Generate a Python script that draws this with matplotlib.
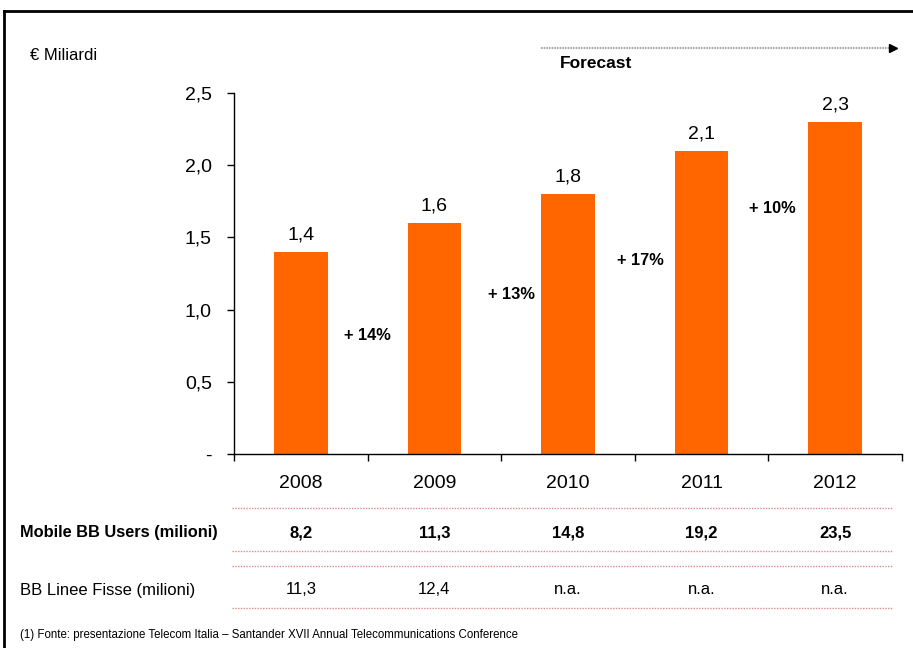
import matplotlib
matplotlib.use("Agg")
import matplotlib.pyplot as plt
from matplotlib.lines import Line2D
from matplotlib.transforms import blended_transform_factory

plt.rcParams['font.family'] = ['Liberation Sans', 'DejaVu Sans']

years = ['2008', '2009', '2010', '2011', '2012']
revenue = [1.4, 1.6, 1.8, 2.1, 2.3]
revenue_labels = ['1,4', '1,6', '1,8', '2,1', '2,3']
growth_labels = ['+ 14%', '+ 13%', '+ 17%', '+ 10%']
ytick_vals = [0, 0.5, 1.0, 1.5, 2.0, 2.5]
ytick_labels = ['-', '0,5', '1,0', '1,5', '2,0', '2,5']
mobile_users = ['8,2', '11,3', '14,8', '19,2', '23,5']
fixed_lines = ['11,3', '12,4', 'n.a.', 'n.a.', 'n.a.']
row_titles = ['Mobile BB Users (milioni)', 'BB Linee Fisse (milioni)']
footnote = '(1) Fonte: presentazione Telecom Italia \u2013 Santander XVII Annual Telecommunications Conference'

# layout (label placement)
growth_x = [0.50, 1.58, 2.54, 3.53]
growth_y = [0.824, 1.108, 1.343, 1.697]

W, H = 913, 648
fig = plt.figure(figsize=(W / 100, H / 100), dpi=100)
ax = fig.add_axes([234 / W, 1 - 454 / H, (902 - 234) / W, (454 - 93) / H])

x = list(range(len(years)))
ax.bar(x, revenue, width=0.4, color='#FF6600')
ax.set_xlim(-0.5, len(years) - 0.5)
ax.set_ylim(0, 2.5)

for xi, v, lab in zip(x, revenue, revenue_labels):
    ax.annotate(lab, (xi, v), xytext=(0, 6), textcoords='offset points',
                ha='center', va='bottom', fontsize=14)

for gx, gy, lab in zip(growth_x, growth_y, growth_labels):
    ax.text(gx, gy, lab, ha='center', va='center', fontsize=11.8, fontweight='bold')

ax.set_yticks(ytick_vals)
ax.set_yticklabels(ytick_labels, fontsize=14)
ax.tick_params(axis='y', direction='out', length=5, width=1, pad=11)

ax.set_xticks([i + 0.5 for i in range(-1, len(years))])
ax.set_xticklabels([])
ax.tick_params(axis='x', which='major', direction='out', length=5, width=1)
ax.set_xticks(x, minor=True)
ax.set_xticklabels(years, minor=True, fontsize=14)
ax.tick_params(axis='x', which='minor', length=0, pad=15)

for s in ['top', 'right']:
    ax.spines[s].set_visible(False)
for s in ['left', 'bottom']:
    ax.spines[s].set_linewidth(1)
    ax.spines[s].set_color('black')

# table rows below the chart
tr = blended_transform_factory(ax.transData, fig.transFigure)
for yy in [508, 551, 566, 608]:
    fig.add_artist(Line2D([232 / W, 893 / W], [1 - yy / H, 1 - yy / H],
                          color='#d98c8c', linestyle=(0, (1, 1)), linewidth=1))

row1_y = 1 - 533 / H
row2_y = 1 - 590 / H
fig.text(20 / W, row1_y, row_titles[0], ha='left', va='center', fontsize=11.8, fontweight='bold')
fig.text(20 / W, row2_y, row_titles[1], ha='left', va='center', fontsize=12)
for xi, m, f in zip(x, mobile_users, fixed_lines):
    ax.text(xi, row1_y, m, transform=tr, ha='center', va='center', fontsize=12,
            fontweight='bold', clip_on=False)
    ax.text(xi, row2_y, f, transform=tr, ha='center', va='center', fontsize=12,
            clip_on=False)

fig.text(20 / W, 1 - 635 / H, footnote, ha='left', va='center', fontsize=8.3)

# header texts
fig.text(30 / W, 1 - 56 / H, '\u20ac Miliardi', ha='left', va='center', fontsize=12)
fig.text(560 / W, 1 - 64 / H, 'Forecast', ha='left', va='center', fontsize=12.5, fontweight='bold')
ay = 1 - 48 / H
fig.add_artist(Line2D([541 / W, 893 / W], [ay, ay], color='#999999',
                      linestyle=(0, (1, 0.6)), linewidth=1.2))
fig.add_artist(Line2D([893 / W], [ay], marker='>', color='black', markersize=6,
                      linestyle='none'))

# frame
fig.add_artist(Line2D([3.5 / W, 1.0], [1 - 10.5 / H, 1 - 10.5 / H], color='black', linewidth=2))
fig.add_artist(Line2D([3.5 / W, 3.5 / W], [0, 1 - 10.5 / H], color='black', linewidth=2))

fig.savefig('out.png', dpi=100)
